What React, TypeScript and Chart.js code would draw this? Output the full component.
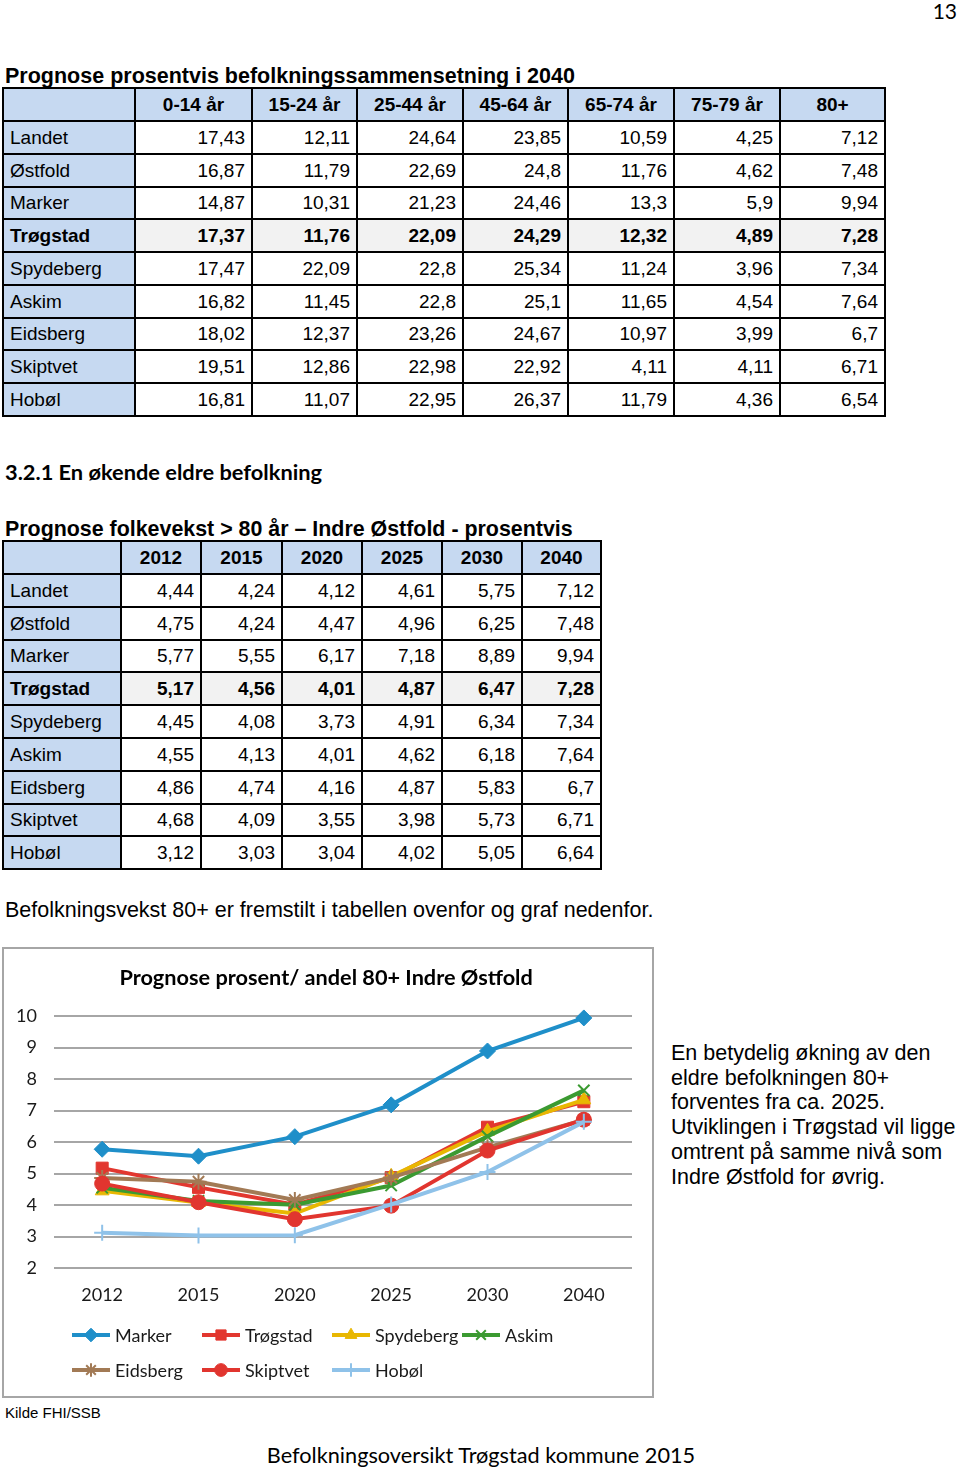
import React, { useEffect, useRef } from 'react';
import { Chart, registerables } from 'chart.js';
import { drawPoint } from 'chart.js/helpers';

Chart.register(...registerables);

// ---------- Data ----------
const ageGroups = ['0-14 år', '15-24 år', '25-44 år', '45-64 år', '65-74 år', '75-79 år', '80+'];
const regionNames = ['Landet', 'Østfold', 'Marker', 'Trøgstad', 'Spydeberg', 'Askim', 'Eidsberg', 'Skiptvet', 'Hobøl'];

const landet2040 = [17.43, 12.11, 24.64, 23.85, 10.59, 4.25, 7.12];
const ostfold2040 = [16.87, 11.79, 22.69, 24.8, 11.76, 4.62, 7.48];
const marker2040 = [14.87, 10.31, 21.23, 24.46, 13.3, 5.9, 9.94];
const trogstad2040 = [17.37, 11.76, 22.09, 24.29, 12.32, 4.89, 7.28];
const spydeberg2040 = [17.47, 22.09, 22.8, 25.34, 11.24, 3.96, 7.34];
const askim2040 = [16.82, 11.45, 22.8, 25.1, 11.65, 4.54, 7.64];
const eidsberg2040 = [18.02, 12.37, 23.26, 24.67, 10.97, 3.99, 6.7];
const skiptvet2040 = [19.51, 12.86, 22.98, 22.92, 4.11, 4.11, 6.71];
const hobol2040 = [16.81, 11.07, 22.95, 26.37, 11.79, 4.36, 6.54];

const years = ['2012', '2015', '2020', '2025', '2030', '2040'];
const landet80 = [4.44, 4.24, 4.12, 4.61, 5.75, 7.12];
const ostfold80 = [4.75, 4.24, 4.47, 4.96, 6.25, 7.48];
const marker80 = [5.77, 5.55, 6.17, 7.18, 8.89, 9.94];
const trogstad80 = [5.17, 4.56, 4.01, 4.87, 6.47, 7.28];
const spydeberg80 = [4.45, 4.08, 3.73, 4.91, 6.34, 7.34];
const askim80 = [4.55, 4.13, 4.01, 4.62, 6.18, 7.64];
const eidsberg80 = [4.86, 4.74, 4.16, 4.87, 5.83, 6.7];
const skiptvet80 = [4.68, 4.09, 3.55, 3.98, 5.73, 6.71];
const hobol80 = [3.12, 3.03, 3.04, 4.02, 5.05, 6.64];

const chartSeriesNames = ['Marker', 'Trøgstad', 'Spydeberg', 'Askim', 'Eidsberg', 'Skiptvet', 'Hobøl'];
const chartSeriesValues = [marker80, trogstad80, spydeberg80, askim80, eidsberg80, skiptvet80, hobol80];
const seriesColors = ['#1f8fc9', '#e2372f', '#e8b702', '#3b9a31', '#a27a55', '#e1352f', '#8fc2e9'];
const seriesPointStyles = ['rectRot', 'rect', 'triangle', 'crossRot', 'star', 'circle', 'cross'];
const seriesPointRadius = [8, 8.5, 8, 8, 8, 7.5, 8];
const yTickValues = [2, 3, 4, 5, 6, 7, 8, 9, 10];

const table1Rows = [landet2040, ostfold2040, marker2040, trogstad2040, spydeberg2040, askim2040, eidsberg2040, skiptvet2040, hobol2040];
const table2Rows = [landet80, ostfold80, marker80, trogstad80, spydeberg80, askim80, eidsberg80, skiptvet80, hobol80];

const fmt = (n: number) => String(n).replace('.', ',');

// ---------- Table ----------
type TableProps = {
  colLines: number[];
  rowLines: number[];
  header: string[];
  rows: number[][];
  boldRow: number;
};

function GridTable({ colLines, rowLines, header, rows, boldRow }: TableProps) {
  const cells: React.ReactNode[] = [];
  const nCols = colLines.length - 1;
  const nRows = rowLines.length - 1;
  for (let r = 0; r < nRows; r++) {
    for (let c = 0; c < nCols; c++) {
      const left = colLines[c] + 1;
      const width = colLines[c + 1] - colLines[c] - 2;
      const top = rowLines[r] + 1;
      const height = rowLines[r + 1] - rowLines[r] - 2;
      let text = '';
      let bg = '#ffffff';
      let bold = false;
      let align: 'flex-start' | 'flex-end' | 'center' = 'flex-end';
      if (r === 0) {
        text = c === 0 ? '' : header[c - 1];
        bg = '#c6d9f1';
        bold = true;
        align = 'center';
      } else if (c === 0) {
        text = regionNames[r - 1];
        bg = '#c6d9f1';
        align = 'flex-start';
        bold = r - 1 === boldRow;
      } else {
        text = fmt(rows[r - 1][c - 1]);
        bold = r - 1 === boldRow;
        bg = r - 1 === boldRow ? '#f2f2f2' : '#ffffff';
      }
      cells.push(
        <div
          key={r + '-' + c}
          style={{
            position: 'absolute',
            left,
            top,
            width,
            height,
            background: bg,
            display: 'flex',
            alignItems: 'center',
            justifyContent: align,
            padding: '0 6px',
            boxSizing: 'border-box',
            fontWeight: bold ? 'bold' : 'normal',
            fontSize: 19,
            whiteSpace: 'nowrap',
            color: '#000',
          }}
        >
          {text}
        </div>
      );
    }
  }
  const L = colLines[0] - 1;
  const T = rowLines[0] - 1;
  return (
    <>
      <div
        style={{
          position: 'absolute',
          left: L,
          top: T,
          width: colLines[nCols] + 1 - L,
          height: rowLines[nRows] + 1 - T,
          background: '#000',
        }}
      />
      {cells}
    </>
  );
}

// ---------- Chart ----------
const fixedLegend = {
  id: 'fixedLegend',
  afterDraw(chart: any) {
    const ctx: CanvasRenderingContext2D = chart.ctx;
    chart.data.datasets.forEach((ds: any, i: number) => {
      const row = i < 4 ? 0 : 1;
      const col = i < 4 ? i : i - 4;
      const x0 = 67 + col * 130;
      const y = 385 + row * 35;
      ctx.save();
      ctx.strokeStyle = ds.borderColor;
      ctx.lineWidth = 4;
      ctx.beginPath();
      ctx.moveTo(x0, y);
      ctx.lineTo(x0 + 38, y);
      ctx.stroke();
      ctx.fillStyle = ds.pointBackgroundColor;
      ctx.strokeStyle = ds.pointBorderColor;
      ctx.lineWidth = ds.pointBorderWidth;
      drawPoint(ctx, { pointStyle: ds.pointStyle, radius: ds.pointRadius * 0.85, borderWidth: ds.pointBorderWidth, rotation: 0 } as any, x0 + 19, y);
      ctx.fillStyle = '#1a1a1a';
      ctx.font = '18px Lato';
      ctx.textBaseline = 'middle';
      ctx.textAlign = 'left';
      ctx.fillText(ds.label, x0 + 43, y + 1);
      ctx.restore();
    });
  },
};

function LineChart() {
  const ref = useRef<HTMLCanvasElement>(null);
  useEffect(() => {
    const tickFont = { family: 'Lato', size: 18 };
    const chart = new Chart(ref.current!, {
      type: 'line',
      data: {
        labels: years,
        datasets: chartSeriesNames.map((name, i) => {
          const isStroke = ['crossRot', 'star', 'cross'].includes(seriesPointStyles[i]);
          return {
            label: name,
            data: chartSeriesValues[i],
            borderColor: seriesColors[i],
            backgroundColor: seriesColors[i],
            borderWidth: 4,
            pointStyle: seriesPointStyles[i] as any,
            pointRadius: seriesPointRadius[i],
            pointBackgroundColor: seriesColors[i],
            pointBorderColor: seriesColors[i],
            pointBorderWidth: isStroke ? 2 : 1,
            tension: 0,
            clip: false as any,
            order: chartSeriesNames.length - i,
          };
        }),
      },
      options: {
        animation: false,
        responsive: false,
        maintainAspectRatio: false,
        layout: { padding: { left: 10, right: 19, top: 0, bottom: 87 } },
        plugins: {
          legend: { display: false },
          tooltip: { enabled: false },
          title: {
            display: true,
            text: '\u00a0Prognose prosent/ andel 80+ Indre Østfold',
            color: '#000',
            font: { family: 'Lato', size: 21.7, weight: 'bold' },
            padding: { top: 15, bottom: 25 },
          },
        },
        scales: {
          x: {
            offset: true,
            grid: { display: false, drawTicks: false },
            border: { display: false },
            ticks: { font: tickFont, color: '#1a1a1a', padding: 16 },
            afterFit: (s: any) => {
              s.height = 40;
            },
          },
          y: {
            min: 2,
            max: 10,
            afterBuildTicks: (s: any) => {
              s.ticks = yTickValues.map((v) => ({ value: v }));
            },
            ticks: { font: tickFont, color: '#1a1a1a', padding: 17 },
            grid: { color: '#a6a6a6', lineWidth: 2, drawTicks: false },
            border: { display: false },
            afterFit: (s: any) => {
              s.width = 39;
            },
          },
        },
      },
      plugins: [fixedLegend],
    });
    return () => chart.destroy();
  }, []);
  return <canvas ref={ref} width={646} height={445} style={{ position: 'absolute', left: 5, top: 950, width: 646, height: 445 }} />;
}

// ---------- Page ----------
const abs = (left: number, top: number, extra: React.CSSProperties = {}): React.CSSProperties => ({
  position: 'absolute',
  left,
  top,
  whiteSpace: 'nowrap',
  color: '#000',
  ...extra,
});

export default function App() {
  const t1Cols = [3, 135, 252, 357, 463, 568, 674, 780, 885];
  const t1Rows = [88, 121, 154, 187, 219, 252, 285, 318, 350, 383, 416];
  const t2Cols = [3, 121, 201, 282, 362, 442, 522, 601];
  const t2Rows = [541, 574, 607, 640, 672, 705, 738, 771, 804, 836, 869];
  return (
    <div
      style={{
        position: 'absolute',
        left: 0,
        top: 0,
        width: 960,
        height: 1469,
        background: '#fff',
        overflow: 'hidden',
        fontFamily: '"Liberation Sans", Arial, sans-serif',
      }}
    >
      <div style={abs(0, 0, { width: 957, textAlign: 'right', fontFamily: 'Lato', fontSize: 21, lineHeight: '21px' })}>13</div>

      <div style={abs(5, 66, { fontSize: 21.5, lineHeight: '21.5px', fontWeight: 'bold' })}>
        Prognose prosentvis befolkningssammensetning i 2040
      </div>
      <GridTable colLines={t1Cols} rowLines={t1Rows} header={ageGroups} rows={table1Rows} boldRow={3} />

      <div style={abs(5, 461, { fontFamily: 'Lato', fontSize: 21.8, lineHeight: '21.8px', fontWeight: 'bold' })}>
        3.2.1 En økende eldre befolkning
      </div>

      <div style={abs(5, 519, { fontSize: 21.4, lineHeight: '21.4px', fontWeight: 'bold' })}>
        Prognose folkevekst &gt; 80 år – Indre Østfold - prosentvis
      </div>
      <GridTable colLines={t2Cols} rowLines={t2Rows} header={years} rows={table2Rows} boldRow={3} />

      <div style={abs(5, 900, { fontSize: 21.5, lineHeight: '21.5px' })}>
        Befolkningsvekst 80+ er fremstilt i tabellen ovenfor og graf nedenfor.
      </div>

      <div style={{ position: 'absolute', left: 2, top: 947, width: 652, height: 451, border: '2px solid #a6a6a6', boxSizing: 'border-box' }} />
      <LineChart />

      <div style={abs(671, 1041, { fontSize: 21.5, lineHeight: '24.7px' })}>
        En betydelig økning av den
        <br />
        eldre befolkningen 80+
        <br />
        forventes fra ca. 2025.
        <br />
        Utviklingen i Trøgstad vil ligge
        <br />
        omtrent på samme nivå som
        <br />
        Indre Østfold for øvrig.
      </div>

      <div style={abs(5, 1405, { fontSize: 15, lineHeight: '15px' })}>Kilde FHI/SSB</div>

      <div style={abs(0, 1445, { width: 962, textAlign: 'center', fontFamily: 'Lato', fontSize: 21.7, lineHeight: '21.7px' })}>
        Befolkningsoversikt Trøgstad kommune 2015
      </div>
    </div>
  );
}
